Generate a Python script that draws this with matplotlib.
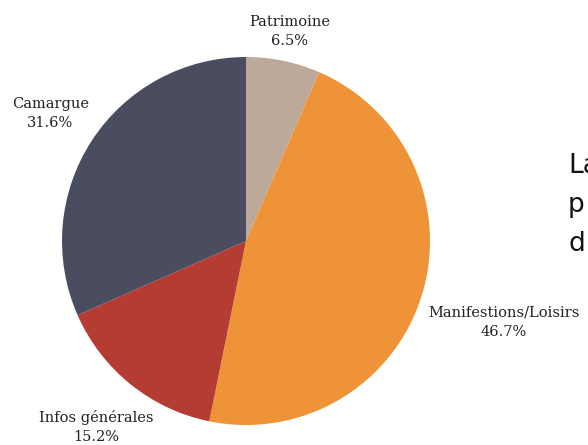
import numpy as np
import matplotlib.pyplot as plt

categories = ['Patrimoine', 'Manifestions/Loisirs', 'Infos générales', 'Camargue']
shares = [6.5, 46.7, 15.2, 31.6]
colors = ['#BCA99A', '#EE9337', '#B43C33', '#4A4D60']

fig = plt.figure(figsize=(5.88, 4.45), dpi=100)
ax = fig.add_axes([0, 0, 1, 1])

cx, cy, r = 246, 445 - 241, 184
wedges, _ = ax.pie(shares, colors=colors, startangle=90, counterclock=False,
                   center=(cx, cy), radius=r, frame=True,
                   wedgeprops=dict(linewidth=0))
ax.set_xlim(0, 588)
ax.set_ylim(0, 445)
ax.set_aspect('equal')
ax.axis('off')

# label distance (in radii) per wedge, tuned by eye
label_dist = [1.165, 1.47, 1.30, 1.27]
for w, name, val, d in zip(wedges, categories, shares, label_dist):
    ang = np.deg2rad((w.theta1 + w.theta2) / 2)
    x = cx + d * r * np.cos(ang)
    y = cy + d * r * np.sin(ang)
    ax.text(x, y, f'{name}\n{val}%', ha='center', va='center',
            family='DejaVu Serif', fontsize=10.5, color='#222222',
            linespacing=1.45)

ax.text(568, 240, 'La\np\nd', ha='left', va='center', family='DejaVu Sans',
        fontsize=19, color='#111111', linespacing=1.65)

fig.savefig('out.png', dpi=100)
